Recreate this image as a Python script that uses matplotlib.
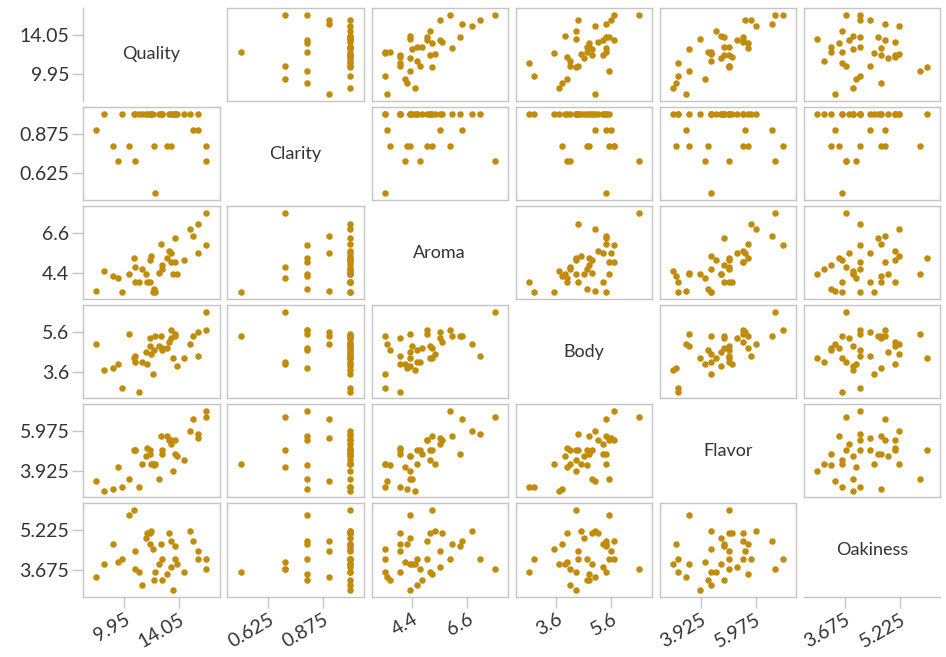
import numpy as np
import matplotlib
matplotlib.use('Agg')
import matplotlib.pyplot as plt

plt.rcParams['font.family'] = ['Lato', 'DejaVu Sans']

# wine quality data (38 wines)
quality = [9.8, 12.6, 11.9, 11.1, 13.3, 12.8, 12.8, 12.0, 13.6, 13.9, 14.4, 12.3, 16.1, 16.1,
           15.5, 15.5, 13.8, 13.8, 11.3, 7.9, 15.1, 13.5, 10.8, 9.5, 12.7, 11.6, 11.7, 11.9,
           10.8, 8.5, 10.7, 9.1, 12.1, 14.9, 13.5, 12.2, 10.3, 13.2]
clarity = [1.0, 1.0, 1.0, 1.0, 1.0, 1.0, 1.0, 1.0, 1.0, 1.0, 1.0, 0.5, 0.8, 0.7,
           1.0, 0.9, 1.0, 1.0, 1.0, 0.9, 0.9, 1.0, 0.7, 0.7, 1.0, 1.0, 1.0, 1.0,
           1.0, 1.0, 1.0, 0.8, 1.0, 1.0, 0.8, 0.8, 0.8, 0.8]
aroma = [3.3, 4.4, 3.9, 3.9, 5.6, 4.6, 4.8, 5.3, 4.3, 4.3, 5.1, 3.3, 5.9, 7.7,
         7.1, 5.5, 6.3, 5.0, 4.6, 3.4, 6.4, 5.5, 4.7, 4.1, 6.0, 4.3, 3.9, 5.1,
         3.9, 4.5, 5.2, 4.2, 3.3, 6.8, 5.0, 3.5, 4.3, 5.2]
body = [2.8, 4.9, 5.3, 2.6, 5.1, 4.7, 4.8, 4.5, 4.3, 3.9, 4.3, 5.4, 5.7, 6.6,
        4.4, 5.6, 5.4, 5.5, 4.1, 5.0, 5.4, 5.3, 4.1, 4.0, 5.4, 4.6, 4.0, 4.9,
        4.4, 3.7, 4.3, 3.8, 3.5, 5.0, 5.7, 4.7, 5.5, 4.8]
flavor = [3.1, 3.5, 4.8, 3.1, 5.5, 5.0, 4.8, 4.3, 3.9, 4.7, 4.5, 4.3, 7.0, 6.7,
          5.8, 5.6, 4.8, 5.5, 4.3, 3.4, 6.6, 5.3, 5.0, 4.1, 5.7, 4.7, 5.1, 5.0,
          5.0, 2.9, 5.0, 3.0, 4.3, 6.0, 5.5, 4.2, 3.5, 5.7]
oakiness = [4.1, 3.9, 4.7, 3.6, 5.1, 4.1, 3.3, 5.2, 2.9, 3.9, 3.6, 3.6, 4.1, 3.7,
            4.1, 4.4, 4.6, 4.1, 3.1, 3.4, 4.8, 3.8, 3.7, 4.0, 4.7, 4.9, 5.1, 5.1,
            4.4, 3.9, 6.0, 4.7, 4.5, 5.2, 4.8, 3.3, 5.8, 3.5]

names = ['Quality', 'Clarity', 'Aroma', 'Body', 'Flavor', 'Oakiness']
cols = [quality, clarity, aroma, body, flavor, oakiness]

dot = '#C18C0C'
edge = '#C4C4C4'
txt = '#333333'

fig, axes = plt.subplots(6, 6, figsize=(9.46, 6.57), dpi=100)
fig.subplots_adjust(left=0.088, right=0.994, top=0.988, bottom=0.092,
                    wspace=0.058, hspace=0.065)

def lims(v, m):
    lo, hi = min(v), max(v)
    pad = (hi - lo) * m
    return lo - pad, hi + pad

def ticks(v):
    lo, hi = min(v), max(v)
    t = [lo + 0.25 * (hi - lo), lo + 0.75 * (hi - lo)]
    return t, ['{:g}'.format(round(x, 4)) for x in t]

n = len(names)
for i in range(n):
    for j in range(n):
        ax = axes[i, j]
        ax.set_xlim(*lims(cols[j], 0.12))
        ax.set_ylim(*lims(cols[i], 0.085))
        for s in ax.spines.values():
            s.set_color(edge)
            s.set_linewidth(1.0)
        ax.tick_params(colors=edge, length=8, width=1.0, pad=2,
                       labelcolor=txt, labelsize=14)
        if i == j:
            for s in ax.spines.values():
                s.set_visible(False)
            ax.text(0.5, 0.5, names[i], transform=ax.transAxes, ha='center', va='center',
                    fontsize=13, color=txt)
            if j == 0:
                ax.spines['left'].set_visible(True)
            if i == n - 1:
                ax.spines['bottom'].set_visible(True)
        else:
            ax.scatter(cols[j], cols[i], s=22, color=dot, linewidths=0, zorder=3)
        if j == 0:
            t, lab = ticks(cols[i])
            ax.set_yticks(t)
            ax.set_yticklabels(lab)
        else:
            ax.set_yticks([])
        if i == n - 1:
            t, lab = ticks(cols[j])
            ax.set_xticks(t)
            ax.set_xticklabels(lab, rotation=30, ha='right', rotation_mode='anchor')
        else:
            ax.set_xticks([])

fig.savefig('out.png', dpi=100)
